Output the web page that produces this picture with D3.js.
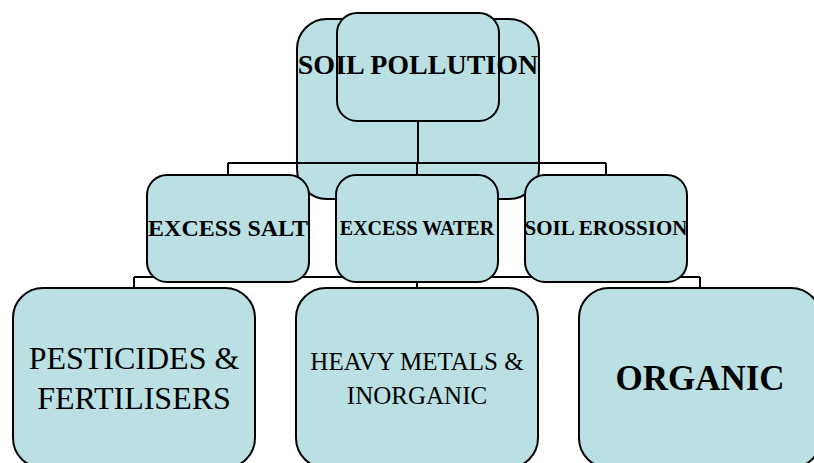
<!DOCTYPE html>
<html>
<head>
<meta charset="utf-8">
<style>
  body { margin: 0; background: #fff; }
  svg { display: block; }
  text { font-family: "Liberation Serif", "Times New Roman", serif; fill: #000; }
</style>
</head>
<body>
<svg width="814" height="463"></svg>
<script src="https://cdnjs.cloudflare.com/ajax/libs/d3/7.8.5/d3.min.js"></script>
<script>

// chart content
var rootLabel = ["SOIL POLLUTION"],
    causeLabels = ["EXCESS SALT", "EXCESS WATER", "SOIL EROSSION"],
    typeLabels = [["PESTICIDES &", "FERTILISERS"], ["HEAVY METALS &", "INORGANIC"], ["ORGANIC"]];

// text styles (kept apart from the content)
var causeFont = [24, 20, 21],
    typeFont = [
      {size: 32, weight: "normal", lh: 40},
      {size: 25, weight: "normal", lh: 34},
      {size: 35, weight: "bold", lh: 0}
    ];

var svg = d3.select("svg"),
    fill = "#bae0e3",
    stroke = "#000";

// layout scales
var xRoot = d3.scalePoint().domain(rootLabel).range([418, 418]),
    xCause = d3.scalePoint().domain(causeLabels).range([228, 606]),
    xType = d3.scalePoint().domain(typeLabels.map(function(d) { return d.join(" "); })).range([134, 700]),
    y = d3.scaleOrdinal().domain(["root", "cause", "type"]).range([13, 175, 288]);

var causeW = 162, causeH = 107,
    typeW = 242, typeH = 180,
    rootBack = {w: 242, h: 180, top: 19},
    rootFront = {w: 162, h: 108};

var boxY1 = 163, boxY2 = 277;

var gBack = svg.append("g"),
    gLinks = svg.append("g").attr("fill", "none").attr("stroke", stroke).attr("stroke-width", 2),
    gBoxes = svg.append("g"),
    gText = svg.append("g");

// big back box behind the root
gBack.selectAll("rect").data(rootLabel).enter().append("rect")
    .attr("x", function(d) { return xRoot(d) - rootBack.w / 2; })
    .attr("y", rootBack.top)
    .attr("width", rootBack.w).attr("height", rootBack.h)
    .attr("rx", 30).attr("fill", fill).attr("stroke", stroke).attr("stroke-width", 2);

// connectors root -> causes
var rx = xRoot(rootLabel[0]);
gLinks.append("path")
    .attr("d", "M" + rx + "," + (y("root") + rootFront.h) + "V" + boxY1 +
      causeLabels.map(function(d) { return "M" + xCause(d) + "," + y("cause") + "V" + boxY1; }).join("") +
      "M" + xCause(causeLabels[0]) + "," + boxY1 + "H" + xCause(causeLabels[causeLabels.length - 1]));

// connectors -> types
var typeKeys = xType.domain();
gLinks.append("path")
    .attr("d", "M" + xCause(causeLabels[1]) + "," + (y("cause") + causeH) + "V" + boxY2 +
      typeKeys.map(function(d) { return "M" + xType(d) + "," + boxY2 + "V" + y("type"); }).join("") +
      "M" + xType(typeKeys[0]) + "," + boxY2 + "H" + xType(typeKeys[typeKeys.length - 1]));

// front root box
gBoxes.selectAll(".root").data(rootLabel).enter().append("rect")
    .attr("class", "root")
    .attr("x", function(d) { return xRoot(d) - rootFront.w / 2; })
    .attr("y", y("root"))
    .attr("width", rootFront.w).attr("height", rootFront.h)
    .attr("rx", 20).attr("fill", fill).attr("stroke", stroke).attr("stroke-width", 2);

gBoxes.selectAll(".cause").data(causeLabels).enter().append("rect")
    .attr("class", "cause")
    .attr("x", function(d) { return xCause(d) - causeW / 2; })
    .attr("y", y("cause"))
    .attr("width", causeW).attr("height", causeH)
    .attr("rx", 20).attr("fill", fill).attr("stroke", stroke).attr("stroke-width", 2);

gBoxes.selectAll(".type").data(typeKeys).enter().append("rect")
    .attr("class", "type")
    .attr("x", function(d) { return xType(d) - typeW / 2; })
    .attr("y", y("type"))
    .attr("width", typeW).attr("height", typeH)
    .attr("rx", 30).attr("fill", fill).attr("stroke", stroke).attr("stroke-width", 2);

// labels
gText.selectAll(".rootLabel").data(rootLabel).enter().append("text")
    .attr("x", xRoot).attr("y", y("root") + 61)
    .attr("text-anchor", "middle")
    .attr("font-weight", "bold").attr("font-size", 28)
    .text(function(d) { return d; });

gText.selectAll(".causeLabel").data(causeLabels).enter().append("text")
    .attr("x", xCause)
    .attr("y", function(d, i) { return y("cause") + causeH / 2 + 0.33 * causeFont[i]; })
    .attr("text-anchor", "middle")
    .attr("font-weight", "bold")
    .attr("font-size", function(d, i) { return causeFont[i]; })
    .text(function(d) { return d; });

gText.selectAll(".typeLabel").data(typeLabels).enter().append("text")
    .attr("text-anchor", "middle")
    .attr("font-weight", function(d, i) { return typeFont[i].weight; })
    .attr("font-size", function(d, i) { return typeFont[i].size; })
    .each(function(lines, i) {
      var f = typeFont[i],
          cx = xType(lines.join(" ")),
          cy = y("type") + typeH / 2,
          first = cy - (lines.length - 1) * f.lh / 2 + 0.35 * f.size;
      d3.select(this).selectAll("tspan").data(lines).enter().append("tspan")
          .attr("x", cx)
          .attr("y", function(l, j) { return first + j * f.lh; })
          .text(function(l) { return l; });
    });

</script>
</body>
</html>
